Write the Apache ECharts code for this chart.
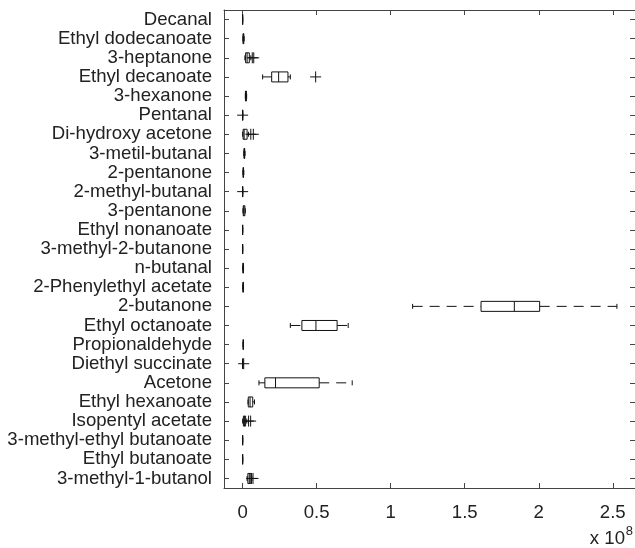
<!DOCTYPE html>
<html>
<head>
<meta charset="utf-8">
<script src="https://cdn.jsdelivr.net/npm/echarts@6/dist/echarts.min.js"></script>
<style>
  html, body { margin: 0; padding: 0; background: #fff; }
  #chart { width: 635px; height: 548px; }
</style>
</head>
<body>
<div id="chart"></div>
<script>
// compounds, top to bottom
const categories = [
  "Decanal", "Ethyl dodecanoate", "3-heptanone", "Ethyl decanoate", "3-hexanone",
  "Pentanal", "Di-hydroxy acetone", "3-metil-butanal", "2-pentanone", "2-methyl-butanal",
  "3-pentanone", "Ethyl nonanoate", "3-methyl-2-butanone", "n-butanal", "2-Phenylethyl acetate",
  "2-butanone", "Ethyl octanoate", "Propionaldehyde", "Diethyl succinate", "Acetone",
  "Ethyl hexanoate", "Isopentyl acetate", "3-methyl-ethyl butanoate", "Ethyl butanoate", "3-methyl-1-butanol"
];
// values in units of 1e8
const whiskerLow = [0, 0.002, 0.015, 0.135, 0.018, 0, 0, 0.008, 0.002, 0, 0.002, 0, 0, 0.001, 0.001, 1.148, 0.322, 0.003, 0, 0.11, 0.036, 0, 0, 0, 0.03];
const q1 =         [0, 0.003, 0.02, 0.196, 0.019, 0, 0.003, 0.009, 0.003, 0, 0.004, 0, 0, 0.002, 0.002, 1.61, 0.40, 0.004, 0, 0.15, 0.038, 0.005, 0, 0, 0.035];
const median =     [0, 0.004, 0.03, 0.243, 0.022, 0, 0.01, 0.011, 0.004, 0, 0.008, 0, 0, 0.003, 0.003, 1.835, 0.495, 0.004, 0, 0.222, 0.05, 0.012, 0, 0, 0.045];
const q3 =         [0, 0.008, 0.045, 0.306, 0.025, 0, 0.03, 0.014, 0.006, 0, 0.015, 0, 0, 0.005, 0.005, 2.006, 0.638, 0.004, 0, 0.517, 0.068, 0.02, 0, 0, 0.055];
const whiskerHigh =[0, 0.01, 0.055, 0.322, 0.027, 0, 0.04, 0.016, 0.008, 0, 0.018, 0, 0, 0.006, 0.006, 2.528, 0.713, 0.005, 0, 0.74, 0.08, 0.028, 0, 0, 0.062];
// outliers: [value, category index]
const outliers = [
  [0.065, 2], [0.075, 2], [0.493, 3], [0, 5], [0.055, 6], [0.072, 6],
  [0, 9], [0.007, 18], [0.04, 21], [0.054, 21], [0.06, 24], [0.07, 24]
];
const xTicks = [0, 0.5, 1, 1.5, 2, 2.5];

const boxData = categories.map((c, i) => [i, whiskerLow[i], q1[i], median[i], q3[i], whiskerHigh[i]]);
const outlierData = outliers.map((o) => [o[1], o[0]]);

const lineColor = "#111";
const axisColor = "#444";
const labelFont = { fontFamily: "Liberation Sans, Arial, sans-serif", fontSize: 18.6, color: "#222" };

const chart = echarts.init(document.getElementById("chart"));

const renderBox = (params, api) => {
  const ci = api.value(0);
  const lo = api.coord([api.value(1), ci]);
  const a = api.coord([api.value(2), ci]);
  const m = api.coord([api.value(3), ci]);
  const b = api.coord([api.value(4), ci]);
  const hi = api.coord([api.value(5), ci]);
  const y = a[1];
  const h = 5, cap = 2.5;
  const solid = { stroke: lineColor, lineWidth: 1, fill: null };
  const dashed = { stroke: lineColor, lineWidth: 1, lineDash: [10, 7] };
  return {
    type: "group",
    children: [
      { type: "line", shape: { x1: lo[0], y1: y, x2: a[0], y2: y }, style: dashed },
      { type: "line", shape: { x1: b[0], y1: y, x2: hi[0], y2: y }, style: dashed },
      { type: "line", shape: { x1: lo[0], y1: y - cap, x2: lo[0], y2: y + cap }, style: solid },
      { type: "line", shape: { x1: hi[0], y1: y - cap, x2: hi[0], y2: y + cap }, style: solid },
      { type: "rect", shape: { x: a[0], y: y - h, width: b[0] - a[0], height: 2 * h }, style: solid },
      { type: "line", shape: { x1: m[0], y1: y - h, x2: m[0], y2: y + h }, style: solid },
    ],
  };
};

const renderPlus = (params, api) => {
  const p = api.coord([api.value(1), api.value(0)]);
  const s = 5.5;
  const st = { stroke: lineColor, lineWidth: 1 };
  return {
    type: "group",
    children: [
      { type: "line", shape: { x1: p[0] - s, y1: p[1], x2: p[0] + s, y2: p[1] }, style: st },
      { type: "line", shape: { x1: p[0], y1: p[1] - s, x2: p[0], y2: p[1] + s }, style: st },
    ],
  };
};

const xBase = {
  type: "value",
  min: -0.126,
  max: 2.65,
  splitLine: { show: false },
  axisLine: { show: true, onZero: false, lineStyle: { color: axisColor } },
  axisTick: { show: true, inside: true, length: 5, customValues: xTicks, lineStyle: { color: axisColor } },
};
const yBase = {
  type: "category",
  data: categories,
  inverse: true,
  axisLine: { show: true, onZero: false, lineStyle: { color: axisColor } },
  axisTick: { show: true, inside: true, length: 5, alignWithLabel: true, interval: 0, lineStyle: { color: axisColor } },
};

chart.setOption({
  animation: false,
  grid: { left: 224, top: 10, right: -1, bottom: 60 },
  xAxis: [
    { ...xBase, position: "bottom", axisLabel: { ...labelFont, margin: 15, customValues: xTicks, formatter: (v) => String(v) } },
    { ...xBase, position: "top", axisLabel: { show: false } },
  ],
  yAxis: [
    { ...yBase, position: "left", axisLabel: { ...labelFont, interval: 0, margin: 12 } },
    { ...yBase, position: "right", axisLabel: { show: false } },
  ],
  graphic: [
    { type: "text", right: 10, bottom: 0, style: { text: "x 10", font: "18.6px Liberation Sans, Arial, sans-serif", fill: "#222" } },
    { type: "text", right: 2, bottom: 10, style: { text: "8", font: "13px Liberation Sans, Arial, sans-serif", fill: "#222" } },
  ],
  series: [
    { type: "custom", renderItem: renderBox, data: boxData, encode: { x: [1, 2, 3, 4, 5], y: 0 } },
    { type: "custom", renderItem: renderPlus, data: outlierData, encode: { x: 1, y: 0 } },
  ],
});
</script>
</body>
</html>
